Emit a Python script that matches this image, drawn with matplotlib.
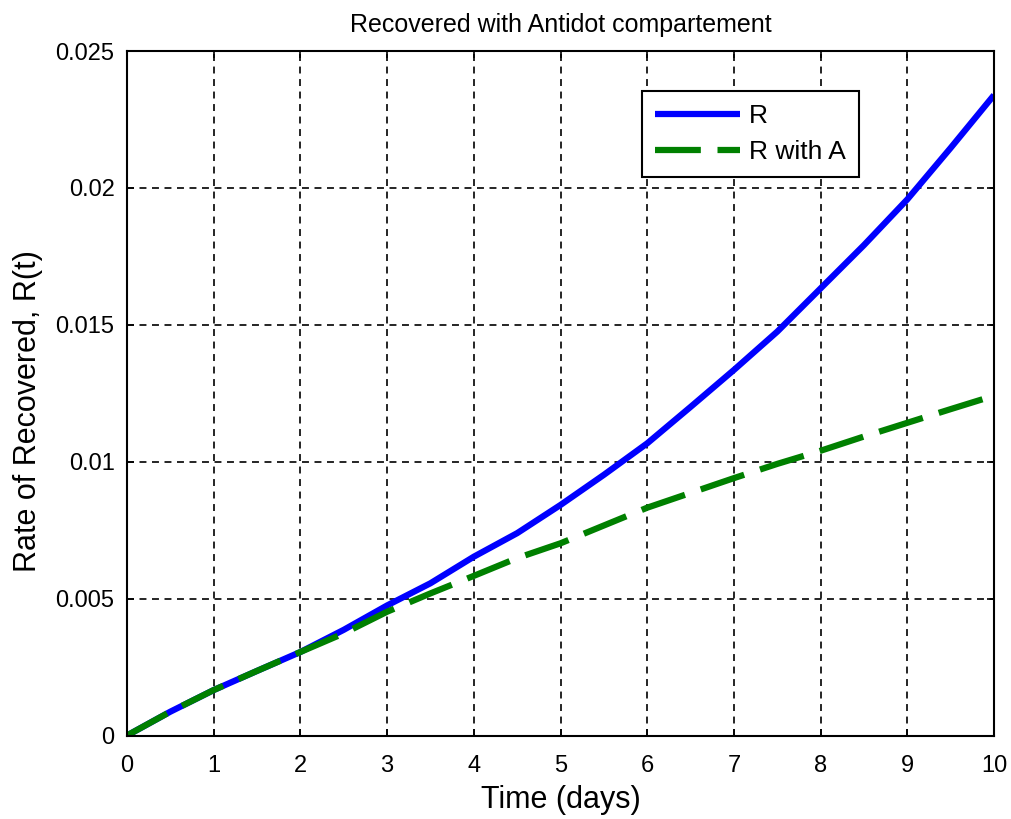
import matplotlib
matplotlib.use("Agg")
import matplotlib.pyplot as plt

plt.rcParams['font.family'] = ['Liberation Sans', 'DejaVu Sans']
plt.rcParams['lines.scale_dashes'] = False

t = [0, 0.5, 1, 1.5, 2, 2.5, 3, 3.5, 4, 4.5, 5, 5.5, 6, 6.5, 7, 7.5, 8, 8.5, 9, 9.5, 10]
r_vals = [0, 0.00087, 0.00166, 0.00236, 0.00305, 0.00386, 0.00475, 0.00556, 0.00653, 0.00739,
          0.00842, 0.00952, 0.01067, 0.01200, 0.01335, 0.01475, 0.01633, 0.01791, 0.01958, 0.02146, 0.02339]
ra_vals = [0, 0.00087, 0.00166, 0.00236, 0.00305, 0.00373, 0.00452, 0.00519, 0.00583, 0.00648,
           0.00702, 0.00767, 0.00832, 0.00886, 0.00940, 0.00992, 0.01040, 0.01092, 0.01142, 0.01192, 0.01241]

xticks = list(range(0, 11))
yticks = [0, 0.005, 0.01, 0.015, 0.02, 0.025]
yticklabels = ['0', '0.005', '0.01', '0.015', '0.02', '0.025']

W, H = 1011, 819
fig = plt.figure(figsize=(W / 100, H / 100), dpi=100)
left, right, top, bottom = 127, 994, 51, 735.5
ax = fig.add_axes([left / W, 1 - bottom / H, (right - left) / W, (bottom - top) / H])

ax.plot(t, r_vals, color='#0000ff', lw=4.5, label='R', solid_capstyle='butt')
ax.plot(t, ra_vals, color='#008000', lw=4.5, label='R with A', linestyle=(0, (33, 12)),
        dash_capstyle='butt')

ax.set_xlim(0, 10)
ax.set_ylim(0, 0.025)
ax.set_xticks(xticks)
ax.set_yticks(yticks)
ax.set_yticklabels(yticklabels)
ax.tick_params(direction='in', top=True, right=True, labelsize=17, length=5, width=1.2)
ax.tick_params(axis='x', pad=14)
ax.tick_params(axis='y', pad=9)
ax.grid(True, color='black', linestyle=(0, (5, 4)), linewidth=1.2)
for s in ax.spines.values():
    s.set_linewidth(1.5)

ax.set_title('Recovered with Antidot compartement', fontsize=18, pad=14)
ax.set_xlabel('Time (days)', fontsize=22, labelpad=6)
ax.set_ylabel('Rate of Recovered, R(t)', fontsize=22)
ax.yaxis.set_label_coords((43 - left) / (right - left), (bottom - 411) / (bottom - top))

leg = ax.legend(loc='upper left', bbox_to_anchor=((642 - left) / (right - left), (bottom - 91) / (bottom - top)),
                borderaxespad=0, fontsize=19, fancybox=False, edgecolor='black', framealpha=1,
                handlelength=3.2, handletextpad=0.35, borderpad=0.5, labelspacing=0.45)
leg.get_frame().set_linewidth(1.5)

fig.savefig('out.png', dpi=100)
